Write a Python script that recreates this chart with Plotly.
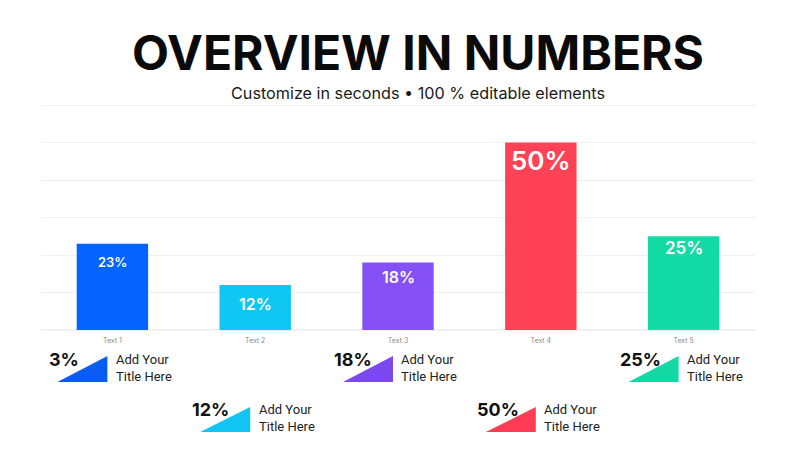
import plotly.graph_objects as go

# ---- data ----
categories = ["Text 1", "Text 2", "Text 3", "Text 4", "Text 5"]
values = [23, 12, 18, 50, 25]
bar_labels = ["23%", "12%", "18%", "50%", "25%"]
legend_values = ["3%", "12%", "18%", "50%", "25%"]
legend_titles = ["Add Your<br>Title Here"] * 5
title_text = "OVERVIEW IN NUMBERS"
subtitle_text = "Customize in seconds • 100 % editable elements"

# ---- style ----
bar_colors = ["#0563FF", "#10C6F2", "#8650F7", "#FF4255", "#12DBA6"]
tri_colors = ["#0A5CF0", "#12C4F4", "#7B48EE", "#FF3C56", "#14D8A4"]
label_sizes = [13, 16, 16, 26, 17]
label_drop = [18, 19, 14, 18, 12]   # px below bar top for label centre
legend_rows = [0, 1, 0, 1, 0]
FONT = "Inter"

L, R, T, B = 41, 45, 104, 120
PW, PH = 800 - L - R, 450 - T - B


def py(pixel_y):
    """convert a page pixel y into plot-area paper coordinate"""
    return (450 - B - pixel_y) / PH


def px(pixel_x):
    return (pixel_x - L) / PW


fig = go.Figure()
fig.add_trace(go.Bar(
    x=categories, y=values, width=0.5,
    marker=dict(color=bar_colors, line=dict(width=0)),
    hoverinfo="skip",
))

for i, (c, v, lab) in enumerate(zip(categories, values, bar_labels)):
    fig.add_annotation(x=c, y=v, xref="x", yref="y", text=lab, showarrow=False,
                       xanchor="center", yanchor="middle", yshift=-label_drop[i],
                       font=dict(family=FONT, size=label_sizes[i], color="white", weight=600))

# legend decorations below chart
row_tri = {0: (382, 356), 1: (432, 407)}
row_pct = {0: 359, 1: 409}
row_ttl = {0: 368, 1: 418}
for i, (pv, tt) in enumerate(zip(legend_values, legend_titles)):
    r = legend_rows[i]
    xr = i - 0.035
    xl = i - 0.385
    yb, yt = py(row_tri[r][0]), py(row_tri[r][1])
    fig.add_shape(type="path", xref="x", yref="paper",
                  path=f"M {xl},{yb} L {xr},{yb} L {xr},{yt} Z",
                  fillcolor=tri_colors[i], line=dict(width=0), layer="above")
    fig.add_annotation(x=xl - 0.075, y=py(row_pct[r]), xref="x", yref="paper",
                       text=pv, showarrow=False, xanchor="left", yanchor="middle",
                       font=dict(family=FONT, size=18, color="#111111", weight=700))
    fig.add_annotation(x=xr + 0.045, y=py(row_ttl[r]), xref="x", yref="paper",
                       text=tt, showarrow=False, xanchor="left", yanchor="middle",
                       align="left",
                       font=dict(family="Roboto", size=13, color="#222222"))

fig.add_annotation(x=px(417.5), y=py(52), xref="paper", yref="paper",
                   text=title_text, showarrow=False, xanchor="center", yanchor="middle",
                   font=dict(family=FONT, size=48, color="#0a0a0a", weight=700))
fig.add_annotation(x=px(417.5), y=py(93), xref="paper", yref="paper",
                   text=subtitle_text, showarrow=False, xanchor="center", yanchor="middle",
                   font=dict(family=FONT, size=16.2, color="#1a1a1a"))

fig.update_layout(
    width=800, height=450,
    margin=dict(l=L, r=R, t=T, b=B),
    paper_bgcolor="white", plot_bgcolor="white",
    showlegend=False,
    xaxis=dict(showgrid=False, zeroline=False, showline=False, ticks="",
               ticklabelstandoff=5,
               tickfont=dict(family=FONT, size=7, color="#8a8a8a")),
    yaxis=dict(range=[0, 60.3], dtick=10, showgrid=True, gridcolor="#EFF1F5",
               gridwidth=1, zeroline=True, zerolinecolor="#EFF1F5",
               showticklabels=False, ticks=""),
)

fig.write_html("out.html", config={"displayModeBar": False},
               post_script="document.body.style.margin='0';")
